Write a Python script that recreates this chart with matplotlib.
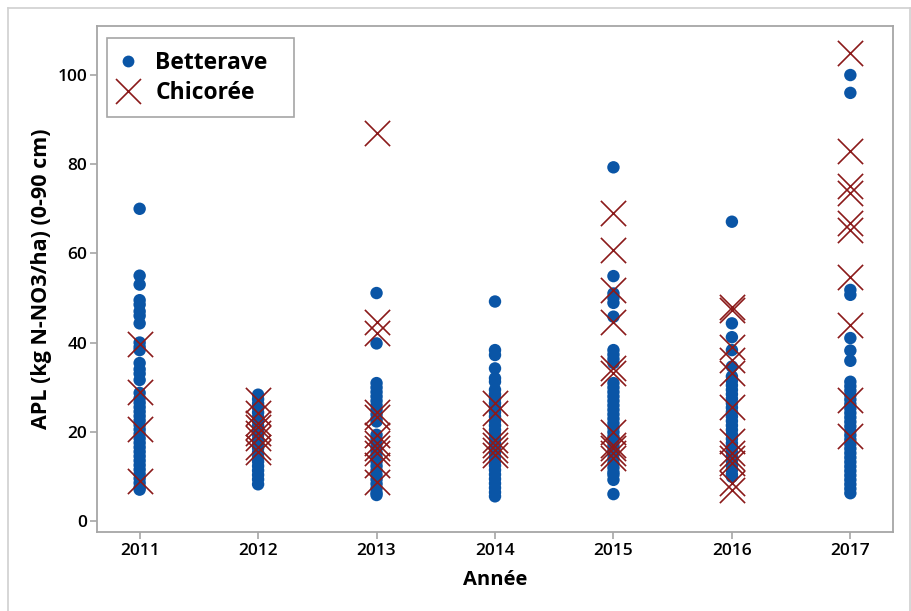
import matplotlib
matplotlib.use("Agg")
import matplotlib.pyplot as plt
from matplotlib.lines import Line2D
from matplotlib.patches import Rectangle

years = [2011, 2012, 2013, 2014, 2015, 2016, 2017]

betterave = {
    2011: [70, 55, 53, 49.5, 48.5, 47, 46, 44.3, 40, 39, 38.3, 35.4, 34, 33, 31.6,
           28.7, 27.5, 26.5, 25.5, 24.5, 23.5, 22.5, 21.5, 20.5, 19.5, 18.5, 17.5,
           16.5, 15.5, 14.5, 13.5, 12.5, 11.5, 10.5, 9.5, 8.5, 7.5, 7],
    2012: [28.3, 27.3, 26.3, 25.3, 24.3, 23.3, 22.3, 21.3, 20.3, 19.3, 18.3, 17.3,
           16.3, 15.3, 14.3, 13.3, 12.3, 11.3, 10.3, 9.3, 8.2],
    2013: [51.1, 39.8, 30.9, 29.9, 28.9, 27.9, 26.9, 25.9, 24.9, 23.9, 22.9, 22.3,
           19.3, 18.3, 17.3, 16.3, 15.3, 14.3, 13.3, 12.3, 11.3, 10.3, 9.3, 8.3,
           7.3, 6.3, 5.8],
    2014: [49.2, 38.3, 37.2, 34.2, 32.0, 31.2, 29.4, 28.4, 27.4, 26.4, 25.4, 24.4,
           23.4, 22.4, 21.4, 20.4, 19.4, 18.4, 17.4, 16.4, 15.4, 14.4, 13.4, 12.4,
           11.4, 10.4, 9.4, 8.4, 7.4, 6.4, 5.5],
    2015: [79.3, 54.9, 51.0, 50.0, 48.9, 45.8, 38.3, 37.3, 36.3, 35.4, 30.9, 29.9,
           28.9, 27.9, 26.9, 25.9, 24.9, 23.9, 22.9, 21.9, 20.9, 19.9, 18.9, 17.9,
           16.9, 15.9, 14.9, 13.9, 12.9, 11.9, 10.9, 10.3, 9.2, 6.0],
    2016: [67.1, 44.3, 41.2, 38.3, 34.6, 32.4, 31.4, 30.4, 29.4, 28.4, 27.4, 26.4,
           25.4, 24.4, 23.4, 22.4, 21.4, 20.4, 19.4, 18.4, 17.4, 16.4, 15.4, 14.4,
           13.4, 12.4, 11.4, 10.4, 9.9],
    2017: [100.0, 96.0, 51.8, 50.7, 41.0, 38.2, 35.9, 31.2, 30.2, 29.2, 28.2, 27.2,
           26.2, 25.2, 24.2, 23.2, 22.2, 21.2, 20.2, 19.2, 18.2, 17.2, 16.2, 15.2,
           14.2, 13.2, 12.2, 11.2, 10.2, 9.2, 8.2, 7.2, 6.2],
}

chicoree = {
    2011: [39.7, 29.0, 20.6, 9.0],
    2012: [27.0, 24.3, 22.0, 21.1, 19.7, 18.6, 16.6, 15.5],
    2013: [86.9, 44.7, 42.2, 24.5, 23.4, 19.3, 17.4, 16.3, 15.2, 12.6, 8.8],
    2014: [26.4, 24.1, 18.2, 17.0, 15.9, 14.8],
    2015: [69.0, 60.8, 51.8, 44.7, 34.2, 33.1, 20.0, 17.0, 16.3, 15.2, 14.1],
    2016: [48.0, 47.3, 39.1, 36.1, 33.1, 25.6, 17.8, 15.2, 14.1, 12.9, 8.4, 7.0],
    2017: [104.9, 83.0, 75.0, 73.6, 66.7, 65.2, 54.8, 43.9, 27.0, 19.1],
}

series_labels = ["Betterave", "Chicorée"]
x_label = "Année"
y_label = "APL (kg N-NO3/ha) (0-90 cm)"
y_ticks = [0, 20, 40, 60, 80, 100]

BLUE = "#0a55a6"
RED = "#8b1a1a"
GRAY = "#a6a6a6"
FONT = ["Open Sans", "DejaVu Sans"]

plt.rcParams["font.family"] = FONT

AX_L, AX_R, AX_T, AX_B = 97, 893, 26, 532
fig = plt.figure(figsize=(9.12, 6.11), dpi=100)
ax = fig.add_axes([AX_L / 912, 1 - AX_B / 611, (AX_R - AX_L) / 912, (AX_B - AX_T) / 611])


def ax_frac(px, py):
    return (px - AX_L) / (AX_R - AX_L), 1 - (py - AX_T) / (AX_B - AX_T)


for yr in years:
    bv = betterave[yr]
    ax.scatter([yr] * len(bv), bv, s=80, color=BLUE, edgecolors="none", zorder=2)
for yr in years:
    cv = chicoree[yr]
    ax.scatter([yr] * len(cv), cv, s=330, marker="x", color=RED, linewidths=1.2, zorder=3)

ax.set_xlim(2010.64, 2017.36)
ax.set_ylim(-2.5, 111)
ax.set_xticks(years)
ax.set_xticklabels([str(y) for y in years])
ax.set_yticks(y_ticks)

for sp in ax.spines.values():
    sp.set_color(GRAY)
    sp.set_linewidth(1.3)
ax.tick_params(axis="both", colors=GRAY, length=5, width=1.2, labelcolor="black",
               labelsize=12.5)
ax.tick_params(axis="x", pad=3)
ax.tick_params(axis="y", pad=2)
for lab in ax.get_xticklabels() + ax.get_yticklabels():
    lab.set_fontweight("semibold")

ax.set_xlabel(x_label, fontsize=14.5, fontweight="bold", labelpad=8)
ax.set_ylabel(y_label, fontsize=15.5, fontweight="bold", labelpad=4)

# legend frame (drawn separately to keep the wide right margin)
x0, y0 = ax_frac(107, 117)
x1, y1 = ax_frac(294, 38)
ax.add_patch(Rectangle((x0, y0), x1 - x0, y1 - y0, transform=ax.transAxes,
                       facecolor="white", edgecolor=GRAY, linewidth=1.2, zorder=4))

handles = [
    Line2D([], [], linestyle="none", marker="o", markersize=8.5, color=BLUE,
           markeredgecolor="none"),
    Line2D([], [], linestyle="none", marker="x", markersize=18, color=RED,
           markeredgewidth=1.2),
]
leg = ax.legend(handles, series_labels, loc="upper left",
                bbox_to_anchor=ax_frac(114, 51),
                borderaxespad=0, frameon=False, borderpad=0,
                prop={"family": FONT, "weight": "bold", "size": 16.5},
                handletextpad=0.6, labelspacing=0.25, handlelength=1.2)
leg.set_zorder(5)

# outer figure frame
for (xs, ys) in [([8, 8], [0, 603]), ([8, 910], [603, 603]), ([910, 910], [603, 0])]:
    fig.add_artist(Line2D([x / 912 for x in xs], [y / 611 for y in ys],
                          color="#d0d0d0", linewidth=1.2))

fig.savefig("out.png", dpi=100)
